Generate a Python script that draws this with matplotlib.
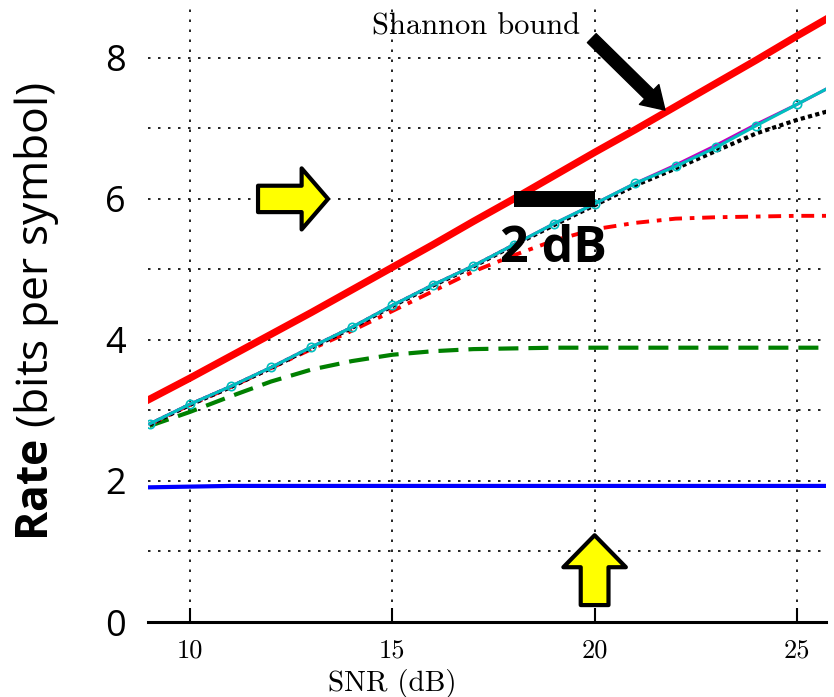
import matplotlib
matplotlib.use('Agg')
import matplotlib.pyplot as plt
from matplotlib.ticker import MultipleLocator

# values
snr = [9, 10, 11, 12, 13, 14, 15, 16, 17, 18, 19, 20, 21, 22, 23, 24, 25, 26]
shannon = [3.16, 3.46, 3.77, 4.08, 4.39, 4.71, 5.03, 5.35, 5.68, 6.00, 6.33, 6.66, 6.98, 7.31, 7.64, 7.97, 8.31, 8.64]
cyan_rate = [2.81, 3.09, 3.34, 3.61, 3.90, 4.18, 4.49, 4.78, 5.05, 5.35, 5.65, 5.93, 6.22, 6.46, 6.73, 7.04, 7.34, 7.64]
magenta_rate = [2.81, 3.09, 3.34, 3.61, 3.90, 4.18, 4.49, 4.78, 5.05, 5.35, 5.65, 5.93, 6.22, 6.48, 6.76, 7.06, 7.34, 7.64]
dotted_rate = [2.80, 3.08, 3.33, 3.60, 3.89, 4.17, 4.48, 4.77, 5.04, 5.34, 5.63, 5.91, 6.19, 6.43, 6.68, 6.93, 7.12, 7.28]
dashdot_rate = [2.80, 3.08, 3.33, 3.60, 3.87, 4.13, 4.41, 4.69, 4.97, 5.20, 5.41, 5.57, 5.66, 5.72, 5.74, 5.75, 5.76, 5.76]
green_rate = [2.78, 2.98, 3.20, 3.41, 3.58, 3.70, 3.79, 3.84, 3.87, 3.88, 3.89, 3.89, 3.89, 3.89, 3.89, 3.89, 3.89, 3.89]
blue_rate = [1.91, 1.92, 1.93, 1.93, 1.93, 1.93, 1.93, 1.93, 1.93, 1.93, 1.93, 1.93, 1.93, 1.93, 1.93, 1.93, 1.93, 1.93]

xticks = [10, 15, 20, 25]
xtick_labels = ['10', '15', '20', '25']
yticks = [0, 2, 4, 6, 8]
ytick_labels = ['0', '2', '4', '6', '8']

plt.rcParams['mathtext.fontset'] = 'custom'
plt.rcParams['mathtext.rm'] = 'Open Sans'
plt.rcParams['mathtext.bf'] = 'Open Sans:bold'

fig = plt.figure(figsize=(8.34, 6.97), dpi=100)
ax = fig.add_axes([148 / 834, 75 / 697, 678 / 834, 617 / 697])

ax.plot(snr, blue_rate, color='#0000ff', lw=3)
ax.plot(snr, green_rate, color='#008000', lw=3, dashes=(4.8, 2.4))
ax.plot(snr, dashdot_rate, color='#ff0000', lw=2.8, dashes=(3.3, 2, 1.2, 2))
ax.plot(snr, dotted_rate, color='black', lw=3, dashes=(1, 0.8))
ax.plot(snr, magenta_rate, color='#bf00bf', lw=2.2)
ax.plot(snr, cyan_rate, color='#00bfbf', lw=2.2, marker='o', mfc='none', mec='#00bfbf', ms=6, mew=1.2)
ax.plot(snr, shannon, color='#ff0000', lw=5.2)

ax.set_xlim(8.96, 25.72)
ax.set_ylim(0, 8.75)

ax.set_xticks(xticks, labels=xtick_labels, fontfamily='cmr10', fontsize=19)
ax.set_yticks(yticks, labels=ytick_labels, fontfamily='Open Sans', fontsize=26)
ax.yaxis.set_minor_locator(MultipleLocator(1))
ax.tick_params(axis='x', direction='in', length=10, width=1.5, pad=12)
ax.tick_params(axis='y', which='both', length=0, pad=16)

ax.grid(True, which='major', color='black', lw=1.2, dashes=(1.5, 4.5))
ax.grid(True, which='minor', axis='y', color='black', lw=1.2, dashes=(1.5, 4.5))

for s in ['left', 'top', 'right']:
    ax.spines[s].set_visible(False)
ax.spines['bottom'].set_linewidth(2.2)

# 2 dB gap marker
ax.hlines(6, 18, 20, color='black', lw=11.5, zorder=5)
ax.text(18.97, 5.11, '2 dB', fontfamily='Open Sans', fontweight='bold', fontsize=36,
        ha='center', va='baseline', zorder=6)

ax.text(14.5, 8.44, 'Shannon bound', fontfamily='cmr10', fontsize=22, ha='left', va='center')
ax.annotate('', xy=(21.74, 7.26), xytext=(19.93, 8.28), annotation_clip=False,
            arrowprops=dict(facecolor='black', edgecolor='black', width=9, headwidth=20,
                            headlength=16, shrink=0), zorder=6)

# yellow arrows
ax.annotate('', xy=(13.41, 6.0), xytext=(11.68, 6.0), annotation_clip=False,
            arrowprops=dict(facecolor='yellow', edgecolor='black', lw=3, width=19,
                            headwidth=44, headlength=19, shrink=0), zorder=6)
ax.annotate('', xy=(20, 1.23), xytext=(20, 0.24), annotation_clip=False,
            arrowprops=dict(facecolor='yellow', edgecolor='black', lw=3, width=20,
                            headwidth=45, headlength=23, shrink=0), zorder=6)

fig.text(392 / 834, 1 - 684 / 697, 'SNR (dB)', fontfamily='cmr10', fontsize=21,
         ha='center', va='center')
fig.text(37 / 834, 1 - 312 / 697, r'$\mathbf{Rate}$ (bits per symbol)', fontfamily='Open Sans',
         fontsize=32, rotation=90, ha='center', va='center')

fig.savefig('out.png', dpi=100)
